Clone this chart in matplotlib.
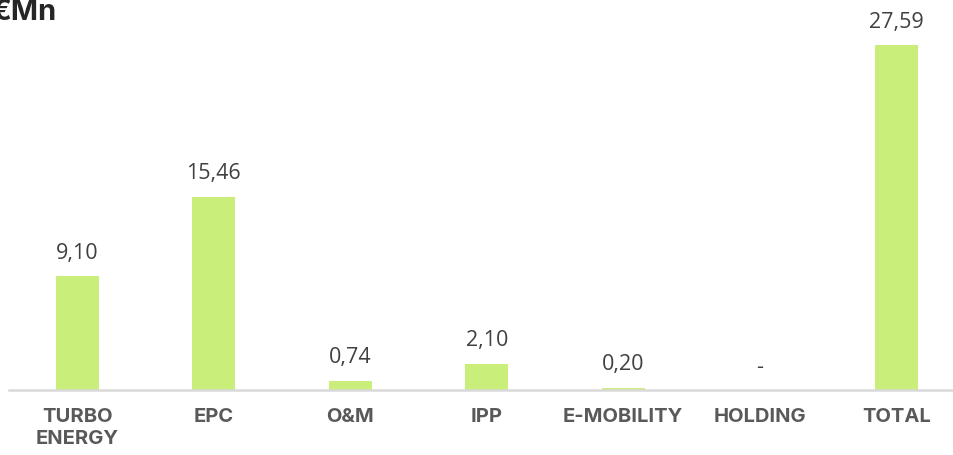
import matplotlib.pyplot as plt

categories = ["TURBO\nENERGY", "EPC", "O&M", "IPP", "E-MOBILITY", "HOLDING", "TOTAL"]
values = [9.10, 15.46, 0.74, 2.10, 0.20, 0.0, 27.59]
value_labels = ["9,10", "15,46", "0,74", "2,10", "0,20", "-", "27,59"]

W, H = 954, 455
fig = plt.figure(figsize=(W / 100, H / 100), dpi=100)

# axes placed in pixel terms: baseline at y=390, first bar centre at x=77
left, base = 9, 390
step = 136.5
ax = fig.add_axes([left / W, (H - base) / H, (W - left) / W, base / H])

x = list(range(len(categories)))
ax.bar(x, values, width=0.315, color="#C9EF7A", zorder=2)

ax.set_xlim(-0.5, -0.5 + (W - left) / step)
ax.set_ylim(0, base / 12.5)

for xi, v, lab in zip(x, values, value_labels):
    ax.annotate(lab, (xi, v), xytext=(0, 9), textcoords="offset points",
                ha="center", va="bottom", fontsize=15.5, color="#404040",
                family="Open Sans")

ax.set_xticks(x)
ax.set_xticklabels(categories, fontsize=14.5, fontweight="bold", color="#595959",
                   family="Inter", linespacing=1.25)
ax.tick_params(axis="x", length=0, pad=13)
ax.set_yticks([])

for side in ["top", "right", "left"]:
    ax.spines[side].set_visible(False)
ax.spines["bottom"].set_color("#d9d9d9")
ax.spines["bottom"].set_linewidth(1.8)

fig.text(-9 / W, 1 + 1 / H, "€Mn", ha="left", va="top", fontsize=21,
         fontweight="bold", color="#262626", family="Inter")

fig.savefig("out.png", dpi=100)
